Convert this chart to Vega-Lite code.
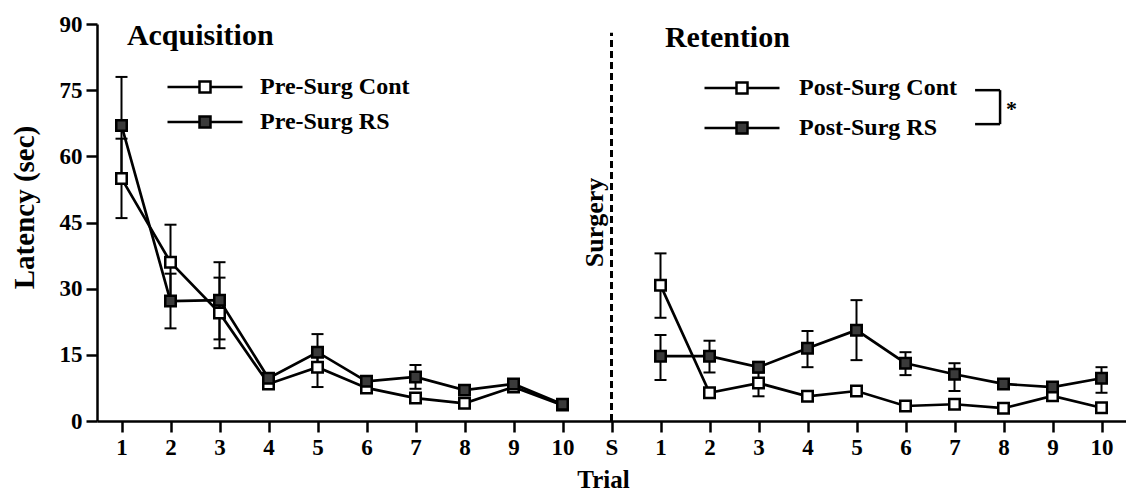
{
  "$schema": "https://vega.github.io/schema/vega-lite/v6.json",
  "width": 1029,
  "height": 397,
  "autosize": {"type": "none"},
  "padding": {"left": 97, "top": 24, "right": 0, "bottom": 76},
  "background": "white",
  "config": {
    "view": {"stroke": null},
    "font": "Liberation Serif",
    "text": {"font": "Liberation Serif", "fontWeight": "bold", "color": "black"},
    "axis": {
      "labelFont": "Liberation Serif", "labelFontSize": 23, "labelFontWeight": "bold", "labelColor": "black",
      "labelPadding": 4, "tickSize": 11, "tickWidth": 2.5, "tickColor": "black",
      "domainColor": "black", "domainWidth": 2.5, "grid": false,
      "titleFont": "Liberation Serif", "titleFontWeight": "bold", "titleColor": "black"
    }
  },
  "datasets": {
    "trials": [
      {"series": "Pre-Surg Cont", "phase": "pre", "x": 1, "y": 55, "lo": 46, "hi": 64},
      {"series": "Pre-Surg Cont", "phase": "pre", "x": 2, "y": 36, "lo": 28, "hi": 44.5},
      {"series": "Pre-Surg Cont", "phase": "pre", "x": 3, "y": 24.5, "lo": 16.5, "hi": 32.5},
      {"series": "Pre-Surg Cont", "phase": "pre", "x": 4, "y": 8.4, "lo": 7.6, "hi": 9.2},
      {"series": "Pre-Surg Cont", "phase": "pre", "x": 5, "y": 12.2, "lo": 7.7, "hi": 16.7},
      {"series": "Pre-Surg Cont", "phase": "pre", "x": 6, "y": 7.5, "lo": 6.6, "hi": 8.4},
      {"series": "Pre-Surg Cont", "phase": "pre", "x": 7, "y": 5.2, "lo": 4.4, "hi": 6.0},
      {"series": "Pre-Surg Cont", "phase": "pre", "x": 8, "y": 4.0, "lo": 3.2, "hi": 4.8},
      {"series": "Pre-Surg Cont", "phase": "pre", "x": 9, "y": 7.7, "lo": 7.0, "hi": 8.4},
      {"series": "Pre-Surg Cont", "phase": "pre", "x": 10, "y": 3.6, "lo": 3.0, "hi": 4.2},
      {"series": "Pre-Surg RS", "phase": "pre", "x": 1, "y": 67, "lo": 56, "hi": 78},
      {"series": "Pre-Surg RS", "phase": "pre", "x": 2, "y": 27.2, "lo": 21, "hi": 33.4},
      {"series": "Pre-Surg RS", "phase": "pre", "x": 3, "y": 27.4, "lo": 18.5, "hi": 36},
      {"series": "Pre-Surg RS", "phase": "pre", "x": 4, "y": 9.7, "lo": 8.8, "hi": 10.6},
      {"series": "Pre-Surg RS", "phase": "pre", "x": 5, "y": 15.6, "lo": 11.5, "hi": 19.7},
      {"series": "Pre-Surg RS", "phase": "pre", "x": 6, "y": 9.0, "lo": 8.1, "hi": 9.9},
      {"series": "Pre-Surg RS", "phase": "pre", "x": 7, "y": 10.0, "lo": 7.3, "hi": 12.7},
      {"series": "Pre-Surg RS", "phase": "pre", "x": 8, "y": 7.0, "lo": 6.1, "hi": 7.9},
      {"series": "Pre-Surg RS", "phase": "pre", "x": 9, "y": 8.4, "lo": 7.6, "hi": 9.2},
      {"series": "Pre-Surg RS", "phase": "pre", "x": 10, "y": 3.8, "lo": 3.2, "hi": 4.4},
      {"series": "Post-Surg Cont", "phase": "post", "x": 12, "y": 30.8, "lo": 23.4, "hi": 38},
      {"series": "Post-Surg Cont", "phase": "post", "x": 13, "y": 6.4, "lo": 5.5, "hi": 7.3},
      {"series": "Post-Surg Cont", "phase": "post", "x": 14, "y": 8.6, "lo": 5.6, "hi": 11.6},
      {"series": "Post-Surg Cont", "phase": "post", "x": 15, "y": 5.6, "lo": 4.8, "hi": 6.4},
      {"series": "Post-Surg Cont", "phase": "post", "x": 16, "y": 6.8, "lo": 5.9, "hi": 7.7},
      {"series": "Post-Surg Cont", "phase": "post", "x": 17, "y": 3.4, "lo": 2.7, "hi": 4.1},
      {"series": "Post-Surg Cont", "phase": "post", "x": 18, "y": 3.8, "lo": 3.0, "hi": 4.6},
      {"series": "Post-Surg Cont", "phase": "post", "x": 19, "y": 2.9, "lo": 2.2, "hi": 3.6},
      {"series": "Post-Surg Cont", "phase": "post", "x": 20, "y": 5.7, "lo": 5.0, "hi": 6.4},
      {"series": "Post-Surg Cont", "phase": "post", "x": 21, "y": 3.0, "lo": 2.4, "hi": 3.6},
      {"series": "Post-Surg RS", "phase": "post", "x": 12, "y": 14.7, "lo": 9.3, "hi": 19.5},
      {"series": "Post-Surg RS", "phase": "post", "x": 13, "y": 14.7, "lo": 11, "hi": 18.2},
      {"series": "Post-Surg RS", "phase": "post", "x": 14, "y": 12.2, "lo": 11, "hi": 13.4},
      {"series": "Post-Surg RS", "phase": "post", "x": 15, "y": 16.5, "lo": 12.2, "hi": 20.4},
      {"series": "Post-Surg RS", "phase": "post", "x": 16, "y": 20.6, "lo": 13.8, "hi": 27.4},
      {"series": "Post-Surg RS", "phase": "post", "x": 17, "y": 13.1, "lo": 10.4, "hi": 15.6},
      {"series": "Post-Surg RS", "phase": "post", "x": 18, "y": 10.6, "lo": 6.8, "hi": 13.1},
      {"series": "Post-Surg RS", "phase": "post", "x": 19, "y": 8.4, "lo": 7.5, "hi": 9.3},
      {"series": "Post-Surg RS", "phase": "post", "x": 20, "y": 7.7, "lo": 7.0, "hi": 8.4},
      {"series": "Post-Surg RS", "phase": "post", "x": 21, "y": 9.7, "lo": 6.4, "hi": 12.2}
    ]
  },
  "layer": [
    {
      "data": {"name": "trials"},
      "transform": [{"filter": "datum.phase === 'pre'"}],
      "layer": [
        {
          "mark": {"type": "rule", "strokeWidth": 2, "color": "black"},
          "encoding": {
            "x": {
              "field": "x", "type": "quantitative", "title": "Trial",
              "scale": {"domain": [0.5, 21.5], "nice": false, "zero": false},
              "axis": {
                "title": "Trial",
                "values": [1, 2, 3, 4, 5, 6, 7, 8, 9, 10, 11, 12, 13, 14, 15, 16, 17, 18, 19, 20, 21],
                "labelExpr": "datum.value <= 10 ? datum.value : (datum.value == 11 ? 'S' : datum.value - 11)",
                "labelFlush": false, "labelOverlap": false,
                "titleFontSize": 25,
                "titleX": 506, "titleY": 66, "titleAlign": "center", "titleBaseline": "alphabetic"
              }
            },
            "y": {
              "field": "lo", "type": "quantitative", "title": "Latency (sec)",
              "scale": {"domain": [0, 90], "nice": false},
              "axis": {
                "title": "Latency (sec)",
                "values": [0, 15, 30, 45, 60, 75, 90],
                "titleFontSize": 29,
                "titleX": -73, "titleY": 183, "titleAngle": 270, "titleAlign": "center", "titleBaseline": "middle"
              }
            },
            "y2": {"field": "hi"}
          }
        },
        {
          "mark": {"type": "point", "shape": "M-1,0H1", "size": 144, "filled": false, "stroke": "black", "strokeWidth": 2, "opacity": 1},
          "encoding": {
            "x": {"field": "x", "type": "quantitative", "title": "Trial"},
            "y": {"field": "lo", "type": "quantitative", "title": "Latency (sec)"}
          }
        },
        {
          "mark": {"type": "point", "shape": "M-1,0H1", "size": 144, "filled": false, "stroke": "black", "strokeWidth": 2, "opacity": 1},
          "encoding": {
            "x": {"field": "x", "type": "quantitative", "title": "Trial"},
            "y": {"field": "hi", "type": "quantitative", "title": "Latency (sec)"}
          }
        },
        {
          "mark": {"type": "line", "stroke": "black", "strokeWidth": 2.7},
          "encoding": {
            "x": {"field": "x", "type": "quantitative", "title": "Trial"},
            "y": {"field": "y", "type": "quantitative", "title": "Latency (sec)"},
            "detail": {"field": "series"}
          }
        },
        {
          "mark": {"type": "point", "shape": "square", "size": 110, "filled": true, "stroke": "black", "strokeWidth": 2.5, "opacity": 1},
          "encoding": {
            "x": {"field": "x", "type": "quantitative", "title": "Trial"},
            "y": {"field": "y", "type": "quantitative", "title": "Latency (sec)"},
            "fill": {
              "field": "series", "type": "nominal",
              "scale": {"domain": ["Pre-Surg Cont", "Pre-Surg RS"], "range": ["white", "#3a3a3a"]},
              "legend": {
                "title": null, "orient": "none", "legendX": 71, "legendY": 51, "direction": "vertical",
                "symbolType": "M-3.75,0H-0.55M0.55,0H3.75M-0.55,-0.55H0.55V0.55H-0.55Z",
                "symbolSize": 400, "symbolStrokeColor": "black", "symbolStrokeWidth": 2.5,
                "symbolOffset": 25, "labelOffset": 43, "rowPadding": 11, "padding": 0,
                "labelFont": "Liberation Serif", "labelFontSize": 24, "labelFontWeight": "bold", "labelColor": "black", "labelLimit": 0
              }
            }
          }
        }
      ]
    },
    {
      "data": {"name": "trials"},
      "transform": [{"filter": "datum.phase === 'post'"}],
      "layer": [
        {
          "mark": {"type": "rule", "strokeWidth": 2, "color": "black"},
          "encoding": {
            "x": {"field": "x", "type": "quantitative", "title": "Trial"},
            "y": {"field": "lo", "type": "quantitative", "title": "Latency (sec)"},
            "y2": {"field": "hi"}
          }
        },
        {
          "mark": {"type": "point", "shape": "M-1,0H1", "size": 144, "filled": false, "stroke": "black", "strokeWidth": 2, "opacity": 1},
          "encoding": {
            "x": {"field": "x", "type": "quantitative", "title": "Trial"},
            "y": {"field": "lo", "type": "quantitative", "title": "Latency (sec)"}
          }
        },
        {
          "mark": {"type": "point", "shape": "M-1,0H1", "size": 144, "filled": false, "stroke": "black", "strokeWidth": 2, "opacity": 1},
          "encoding": {
            "x": {"field": "x", "type": "quantitative", "title": "Trial"},
            "y": {"field": "hi", "type": "quantitative", "title": "Latency (sec)"}
          }
        },
        {
          "mark": {"type": "line", "stroke": "black", "strokeWidth": 2.7},
          "encoding": {
            "x": {"field": "x", "type": "quantitative", "title": "Trial"},
            "y": {"field": "y", "type": "quantitative", "title": "Latency (sec)"},
            "detail": {"field": "series"}
          }
        },
        {
          "mark": {"type": "point", "shape": "square", "size": 110, "filled": true, "stroke": "black", "strokeWidth": 2.5, "opacity": 1},
          "encoding": {
            "x": {"field": "x", "type": "quantitative", "title": "Trial"},
            "y": {"field": "y", "type": "quantitative", "title": "Latency (sec)"},
            "fill": {
              "field": "series", "type": "nominal",
              "scale": {"domain": ["Post-Surg Cont", "Post-Surg RS"], "range": ["white", "#3a3a3a"]},
              "legend": {
                "title": null, "orient": "none", "legendX": 608, "legendY": 52, "direction": "vertical",
                "symbolType": "M-3.75,0H-0.55M0.55,0H3.75M-0.55,-0.55H0.55V0.55H-0.55Z",
                "symbolSize": 400, "symbolStrokeColor": "black", "symbolStrokeWidth": 2.5,
                "symbolOffset": 25, "labelOffset": 45, "rowPadding": 16, "padding": 0,
                "labelFont": "Liberation Serif", "labelFontSize": 24, "labelFontWeight": "bold", "labelColor": "black", "labelLimit": 0
              }
            }
          }
        }
      ]
    },
    {
      "data": {"values": [{}]},
      "mark": {"type": "rule", "strokeDash": [7, 4], "strokeWidth": 3, "color": "black"},
      "encoding": {
        "x": {"datum": 11, "type": "quantitative", "title": "Trial"},
        "y": {"datum": 0, "type": "quantitative", "title": "Latency (sec)"},
        "y2": {"datum": 88}
      }
    },
    {
      "data": {"values": [{}]},
      "mark": {"type": "text", "text": "Surgery", "angle": 270, "fontSize": 26, "align": "center", "baseline": "alphabetic"},
      "encoding": {
        "x": {"datum": 10.83, "type": "quantitative", "title": "Trial"},
        "y": {"datum": 45, "type": "quantitative", "title": "Latency (sec)"}
      }
    },
    {
      "data": {"values": [{}]},
      "mark": {"type": "text", "text": "Acquisition", "fontSize": 30, "align": "left", "baseline": "alphabetic"},
      "encoding": {
        "x": {"datum": 1.11, "type": "quantitative", "title": "Trial"},
        "y": {"datum": 85.2, "type": "quantitative", "title": "Latency (sec)"}
      }
    },
    {
      "data": {"values": [{}]},
      "mark": {"type": "text", "text": "Retention", "fontSize": 30, "align": "left", "baseline": "alphabetic"},
      "encoding": {
        "x": {"datum": 12.09, "type": "quantitative", "title": "Trial"},
        "y": {"datum": 84.8, "type": "quantitative", "title": "Latency (sec)"}
      }
    },
    {
      "data": {"values": [{}]},
      "mark": {"type": "text", "text": "*", "fontSize": 22, "align": "left", "baseline": "alphabetic"},
      "encoding": {
        "x": {"datum": 19.05, "type": "quantitative", "title": "Trial"},
        "y": {"datum": 69.1, "type": "quantitative", "title": "Latency (sec)"}
      }
    },
    {
      "data": {"values": [{}]},
      "mark": {"type": "rule", "strokeWidth": 2.5, "color": "black"},
      "encoding": {
        "x": {"datum": 18.42, "type": "quantitative", "title": "Trial"},
        "x2": {"datum": 18.93},
        "y": {"datum": 75, "type": "quantitative", "title": "Latency (sec)"}
      }
    },
    {
      "data": {"values": [{}]},
      "mark": {"type": "rule", "strokeWidth": 2.5, "color": "black"},
      "encoding": {
        "x": {"datum": 18.42, "type": "quantitative", "title": "Trial"},
        "x2": {"datum": 18.93},
        "y": {"datum": 67.3, "type": "quantitative", "title": "Latency (sec)"}
      }
    },
    {
      "data": {"values": [{}]},
      "mark": {"type": "rule", "strokeWidth": 2.5, "color": "black"},
      "encoding": {
        "x": {"datum": 18.93, "type": "quantitative", "title": "Trial"},
        "y": {"datum": 67.3, "type": "quantitative", "title": "Latency (sec)"},
        "y2": {"datum": 75}
      }
    }
  ],
  "resolve": {"scale": {"fill": "independent"}}
}
